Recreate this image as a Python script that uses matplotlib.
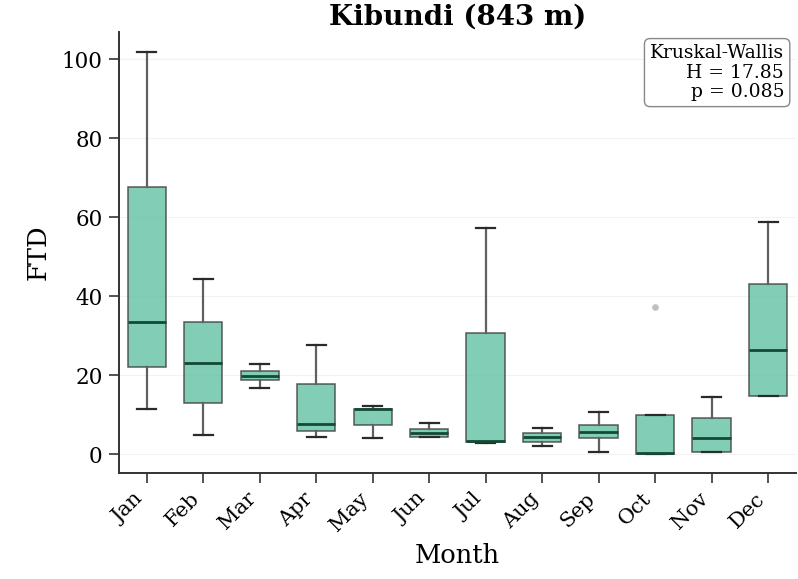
import matplotlib
matplotlib.use("Agg")
import matplotlib.pyplot as plt

plt.rcParams["font.family"] = ["DejaVu Serif"]

months = ["Jan", "Feb", "Mar", "Apr", "May", "Jun",
          "Jul", "Aug", "Sep", "Oct", "Nov", "Dec"]
whislo = [11.4, 4.8, 16.7, 4.3, 4.0, 4.3, 2.7, 2.0, 0.6, 0.0, 0.6, 14.7]
q1 = [22.0, 12.9, 18.7, 5.8, 7.3, 4.4, 3.1, 3.1, 4.0, 0.0, 0.6, 14.7]
med = [33.4, 23.0, 19.8, 7.6, 11.4, 5.3, 3.3, 4.3, 5.6, 0.3, 4.0, 26.3]
q3 = [67.6, 33.4, 21.0, 17.7, 11.4, 6.3, 30.6, 5.3, 7.3, 9.9, 9.1, 43.2]
whishi = [101.8, 44.3, 22.8, 27.6, 12.2, 7.8, 57.2, 6.6, 10.6, 9.9, 14.4, 58.7]
fliers = [[], [], [], [], [], [], [], [], [], [37.2], [], []]

H = 17.85
p = 0.085

stats = []
for i, m in enumerate(months):
    stats.append(dict(label=m, whislo=whislo[i], q1=q1[i], med=med[i],
                      q3=q3[i], whishi=whishi[i], fliers=fliers[i]))

fig, ax = plt.subplots(figsize=(7.98, 5.79), dpi=100)
fig.subplots_adjust(left=0.1485, right=0.998, bottom=0.183, top=0.945)

ax.bxp(stats, positions=range(len(months)), widths=0.68, patch_artist=True,
       boxprops=dict(facecolor="#66c2a5", alpha=0.82, edgecolor="#3a3a3a", linewidth=1.1),
       medianprops=dict(color="#124a36", linewidth=2.0),
       whiskerprops=dict(color="#606060", linewidth=1.6),
       capprops=dict(color="#2a2a2a", linewidth=1.6),
       flierprops=dict(marker="o", markersize=4, markerfacecolor="#b0b0b0",
                       markeredgecolor="#c0c0c0", alpha=0.8))

ax.set_xlim(-0.5, 11.5)
ax.set_ylim(-4.8, 107)
ax.set_yticks([0, 20, 40, 60, 80, 100])
ax.yaxis.grid(True, color="#f2f2f2", linewidth=0.8)
ax.set_axisbelow(True)
ax.spines["top"].set_visible(False)
ax.spines["right"].set_visible(False)
for side in ("left", "bottom"):
    ax.spines[side].set_linewidth(1.4)
    ax.spines[side].set_color("#333333")
ax.tick_params(axis="both", length=7, width=1.3, color="#444444", pad=4.5)
ax.tick_params(axis="y", labelsize=15.5)
ax.tick_params(axis="x", labelsize=15)
ax.set_xticks(range(len(months)))
ax.set_xticklabels(months, rotation=45, ha="right")

ax.set_xlabel("Month", fontsize=18.5, labelpad=6)
ax.set_ylabel("FTD", fontsize=18.5, labelpad=8)
ax.set_title("Kibundi (843 m)", fontsize=20, fontweight="bold", pad=5)

ax.text(0.982, 0.972, f"Kruskal-Wallis\nH = {H:.2f}\np = {p:.3f}",
        transform=ax.transAxes, ha="right", va="top", fontsize=13.5,
        multialignment="right", linespacing=1.1,
        bbox=dict(boxstyle="round,pad=0.3", facecolor="white",
                  edgecolor="#888888", linewidth=1.0))

fig.savefig("out.png", dpi=100)
